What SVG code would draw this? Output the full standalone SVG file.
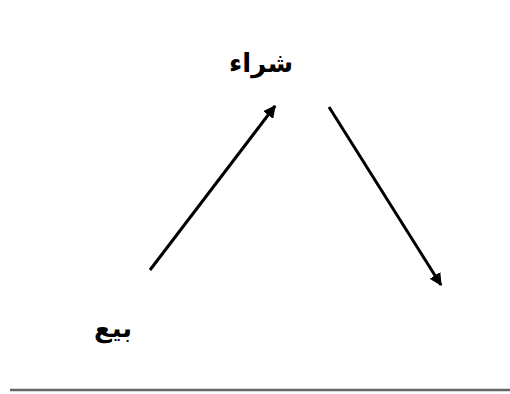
<svg xmlns="http://www.w3.org/2000/svg" width="510" height="394" viewBox="0 0 510 394">
<style>
.lbl{font-family:"DejaVu Sans","Liberation Sans",sans-serif;font-weight:bold;font-size:26px;fill:#000}
.arr{stroke:#000;stroke-width:3;fill:none;marker-end:url(#ah)}
</style>
<defs>
<marker id="ah" viewBox="0 0 10 10" refX="9" refY="5" markerWidth="4.2" markerHeight="4.2" orient="auto" markerUnits="strokeWidth">
<path d="M0,0 L10,5 L0,10 z" fill="#000"/>
</marker>
</defs>
<rect width="510" height="394" fill="#fff"/>
<g id="node-buy"><text class="lbl" x="261" y="72" text-anchor="middle" direction="rtl">شراء</text></g>
<g id="node-sell"><text class="lbl" x="113" y="337" text-anchor="middle" direction="rtl">بيع</text></g>
<g id="connectors">
<line class="arr" x1="150" y1="270" x2="275" y2="106"/>
<line class="arr" x1="329" y1="107" x2="441" y2="285"/>
</g>
<line x1="10" y1="390" x2="510" y2="390" stroke="#666" stroke-width="2.5"/>
</svg>
